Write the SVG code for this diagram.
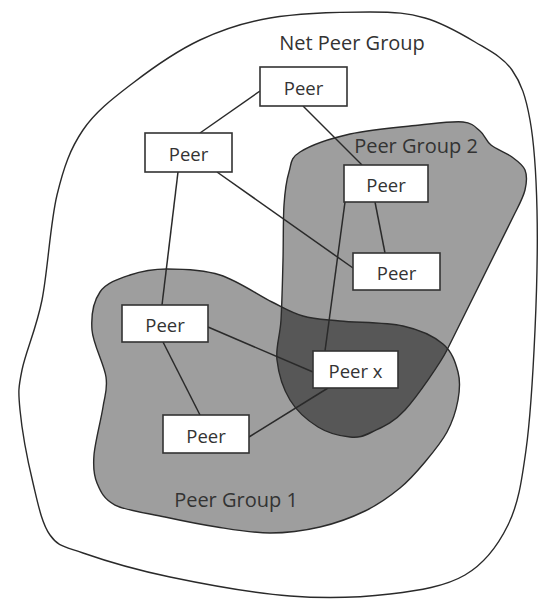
<svg xmlns="http://www.w3.org/2000/svg" xmlns:xlink="http://www.w3.org/1999/xlink" width="547" height="601" viewBox="0 0 547 601">
  <style>
    .outline { fill: none; stroke: #2a2a2a; stroke-width: 1.4; }
    .group-fill { fill: #9e9e9e; }
    .overlap-fill { fill: #575757; }
    .box { fill: #ffffff; stroke: #333333; stroke-width: 1.6; }
    .edge { fill: none; stroke: #2a2a2a; stroke-width: 1.5; }
    .label { font-family: "Open Sans", "Liberation Sans", sans-serif; fill: #333333; text-anchor: middle; }
    .peer { font-size: 18.5px; }
    .group { font-size: 20px; }
  </style>
  <defs>
    <!-- Net Peer Group boundary -->
    <path id="net" d="M270,18 C298.3,13.3 344.2,12 370,12 C395.8,12 407.5,13 425,18 C442.5,23 460.5,33.3 475,42 C489.5,50.7 502.8,57 512,70 C521.2,83 525.8,96.7 530,120 C534.2,143.3 536.2,175 537,210 C537.8,245 536.8,290 535,330 C533.2,370 530.5,417.5 526,450 C521.5,482.5 518.2,504.2 508,525 C497.8,545.8 484.7,563.5 465,575 C445.3,586.5 419.2,590.5 390,594 C360.8,597.5 326.7,598.8 290,596 C253.3,593.2 204.5,584.2 170,577 C135.5,569.8 103,560 83,553 C63,546 58.3,546.7 50,535 C41.7,523.3 38,503.8 33,483 C28,462.2 21.8,428.8 20,410 C18.2,391.2 18.3,388.3 22,370 C25.7,351.7 36.2,329.2 42,300 C47.8,270.8 50.2,223.3 57,195 C63.8,166.7 70.3,148.7 83,130 C95.7,111.3 113.5,98 133,83 C152.5,68 177.2,50.8 200,40 C222.8,29.2 241.7,22.7 270,18 Z"/>
    <!-- Peer Group 1 boundary -->
    <path id="pg1" d="M100,292 C106.3,282.8 118.8,278.8 130,275 C141.2,271.2 152,269 167,269 C182,269 202.5,269.5 220,275 C237.5,280.5 258.2,295.2 272,302 C285.8,308.8 291.7,312.8 303,316 C314.3,319.2 323.3,319.3 340,321 C356.7,322.7 385.8,322.2 403,326 C420.2,329.8 433.8,336.3 443,344 C452.2,351.7 455.5,362.7 458,372 C460.5,381.3 459.8,390 458,400 C456.2,410 452.5,421.7 447,432 C441.5,442.3 432.8,452.7 425,462 C417.2,471.3 410,479.8 400,488 C390,496.2 378.3,504.5 365,511 C351.7,517.5 335.8,523.3 320,527 C304.2,530.7 287.2,533 270,533 C252.8,533 234.5,529.7 217,527 C199.5,524.3 182,520.7 165,517 C148,513.3 126.3,510.7 115,505 C103.7,499.3 100.5,491.3 97,483 C93.5,474.7 93,467.7 94,455 C95,442.3 101,420 103,407 C105,394 107.8,389.8 106,377 C104.2,364.2 93,344.2 92,330 C91,315.8 93.7,301.2 100,292 Z"/>
    <!-- Peer Group 2 boundary -->
    <path id="pg2" d="M300,152 C310.2,145.7 330,138.5 350,134 C370,129.5 401.2,127 420,125 C438.8,123 453,121 463,122 C473,123 475.3,127.2 480,131 C484.7,134.8 485.7,140.7 491,145 C496.3,149.3 506.3,152.8 512,157 C517.7,161.2 522.8,164.5 525,170 C527.2,175.5 526.7,182.8 525,190 C523.3,197.2 519,205 515,213 L447,350 C441,362 417.5,396.3 405,410 C392.5,423.7 381.2,427.5 372,432 C362.8,436.5 359,437.8 350,437 C341,436.2 328,433.2 318,427 C308,420.8 296.8,411.2 290,400 C283.2,388.8 278.5,373.3 277,360 C275.5,346.7 280,336.7 281,320 C282,303.3 282.5,279.2 283,260 C283.5,240.8 283,219.7 284,205 C285,190.3 286.3,180.8 289,172 C291.7,163.2 289.8,158.3 300,152 Z"/>
    <clipPath id="clip-pg1">
      <use xlink:href="#pg1"/>
    </clipPath>
  </defs>

  <rect width="547" height="601" fill="#ffffff"/>

  <!-- regions -->
  <g id="net-peer-group">
    <use xlink:href="#net" fill="#ffffff"/>
    <use xlink:href="#net" class="outline"/>
    <text class="label group" x="352" y="50">Net Peer Group</text>
  </g>
  <g id="peer-group-1">
    <use xlink:href="#pg1" class="group-fill"/>
  </g>
  <g id="peer-group-2">
    <use xlink:href="#pg2" class="group-fill"/>
  </g>
  <g id="overlap">
    <use xlink:href="#pg2" class="overlap-fill" clip-path="url(#clip-pg1)"/>
  </g>
  <g id="region-outlines">
    <use xlink:href="#pg1" class="outline"/>
    <use xlink:href="#pg2" class="outline"/>
    <text class="label group" x="236" y="507">Peer Group 1</text>
    <text class="label group" x="416" y="153">Peer Group 2</text>
  </g>

  <!-- connectors -->
  <g id="connectors">
    <line class="edge" x1="260" y1="91" x2="200" y2="133"/>
    <line class="edge" x1="303" y1="106" x2="362" y2="165"/>
    <line class="edge" x1="178" y1="172" x2="162" y2="305"/>
    <line class="edge" x1="217" y1="172" x2="353" y2="268"/>
    <line class="edge" x1="375" y1="202" x2="385" y2="253"/>
    <line class="edge" x1="345" y1="202" x2="325" y2="351"/>
    <line class="edge" x1="208" y1="327" x2="313" y2="372"/>
    <line class="edge" x1="163" y1="342" x2="200" y2="415"/>
    <line class="edge" x1="249" y1="437" x2="328" y2="388"/>
  </g>

  <!-- peers -->
  <g id="peer-top">
    <rect class="box" x="260" y="67" width="87" height="39"/>
    <text class="label peer" x="303.5" y="95">Peer</text>
  </g>
  <g id="peer-upper-left">
    <rect class="box" x="145" y="133" width="87" height="39"/>
    <text class="label peer" x="188.5" y="161">Peer</text>
  </g>
  <g id="peer-group2-top">
    <rect class="box" x="344" y="165" width="84" height="37"/>
    <text class="label peer" x="386" y="192">Peer</text>
  </g>
  <g id="peer-group2-right">
    <rect class="box" x="353" y="253" width="87" height="37"/>
    <text class="label peer" x="396.5" y="280">Peer</text>
  </g>
  <g id="peer-group1-left">
    <rect class="box" x="122" y="305" width="86" height="37"/>
    <text class="label peer" x="165" y="332">Peer</text>
  </g>
  <g id="peer-group1-bottom">
    <rect class="box" x="163" y="415" width="86" height="38"/>
    <text class="label peer" x="206" y="443">Peer</text>
  </g>
  <g id="peer-x">
    <rect class="box" x="313" y="351" width="85" height="37"/>
    <text class="label peer" x="355.5" y="378">Peer x</text>
  </g>
</svg>
